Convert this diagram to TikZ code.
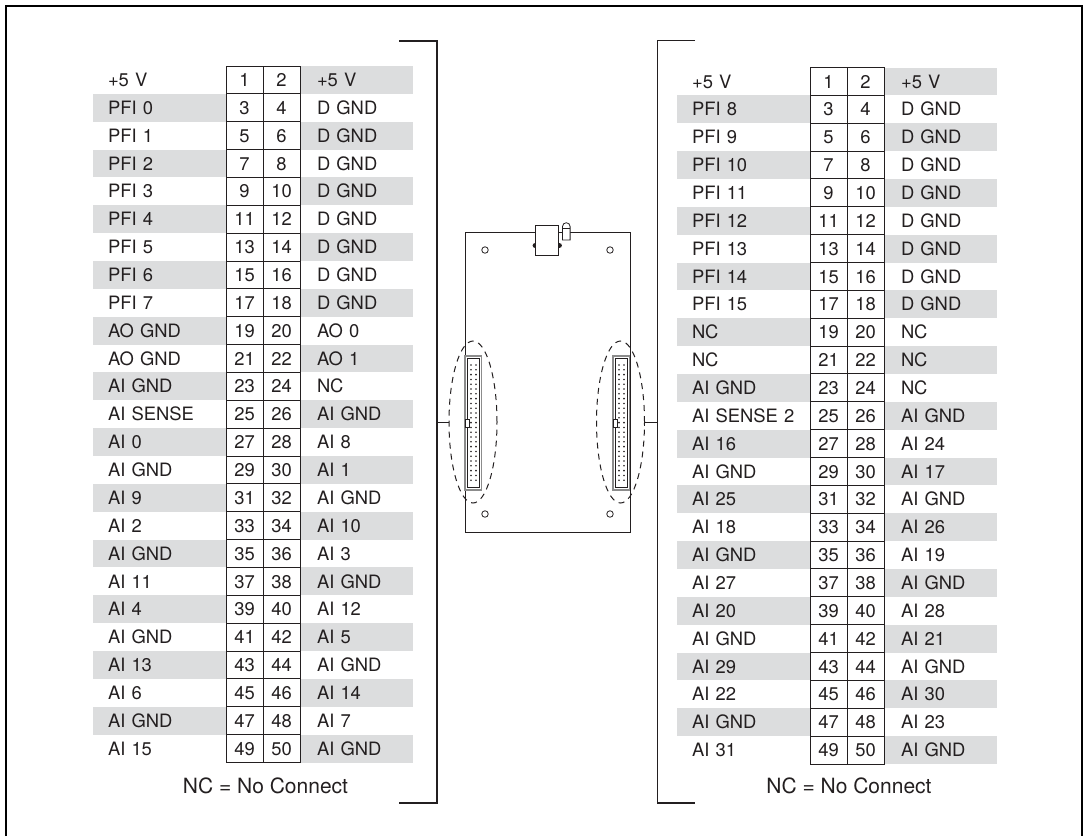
\documentclass[tikz,border=0pt]{standalone}
\usepackage{fontspec}
\setmainfont{TeX Gyre Heros}
\usetikzlibrary{shapes.geometric, positioning}
\definecolor{bandgrey}{HTML}{DCDDDE}
\definecolor{inkdark}{HTML}{231F20}
\definecolor{pingrey}{HTML}{8C8C8C}

\newcommand{\pinrows}[4]{%
	\foreach \ltext/\rtext [count=\i] in {#4} {
		\pgfmathsetmacro{\rowy}{#2+27.86*(\i-0.5)}
		\pgfmathtruncatemacro{\pinodd}{2*\i-1}
		\pgfmathtruncatemacro{\pineven}{2*\i}
		\ifodd\i
			\def\lfill{none}\def\rfill{bandgrey}
		\else
			\def\lfill{bandgrey}\def\rfill{none}
		\fi
		\node (#1l\i) [siglabel, fill=\lfill, anchor=east] at (#3,\rowy) {\ltext};
		\node (#1r\i) [siglabel, fill=\rfill, inner xsep=17pt, text width=79pt, minimum width=113pt, anchor=west] at (#3+74,\rowy) {\rtext};
		\node (#1a\i) [pincell, anchor=west] at (#3,\rowy) {\pinodd};
		\node (#1b\i) [pincell, right=0pt of #1a\i] {\pineven};
	}%
}

\begin{document}
\begin{tikzpicture} [
						x=1pt, y=-1pt,
						line join=miter,
						font=\fontsize{18.4}{22}\selectfont,
						text=inkdark,
						every node/.style={outer sep=0pt},
						siglabel/.style={inner xsep=15pt, inner ysep=0pt, text width=103pt, align=left, minimum width=133pt, minimum height=27.86pt, text height=13.2pt, text depth=0pt},
						pincell/.style={draw=inkdark, line width=1pt, inner sep=0pt, minimum width=37pt, minimum height=27.86pt, text height=13.2pt, text depth=0pt, align=center},
						keynote/.style={font=\fontsize{21}{25}\selectfont, inner sep=0pt},
						bracket/.style={draw=inkdark, line width=1.1pt},
						oval/.style={ellipse, draw=inkdark, line width=1pt, dash pattern=on 6pt off 5pt, inner sep=0pt, minimum width=48pt, minimum height=162pt},
						hole/.style={circle, draw=inkdark, line width=.8pt, inner sep=0pt, minimum size=6.5pt},
						notch/.style={draw=inkdark, fill=white, line width=.8pt, inner sep=0pt, minimum width=4.5pt, minimum height=8pt}
					]

\useasboundingbox (0,0) rectangle (1085,836);

\draw[black, line width=2.3pt] (5.8,836) -- (5.8,6) -- (1082,6) -- (1082,836);

\pinrows{p}{66}{226}{+5 V/+5 V, PFI 0/D GND, PFI 1/D GND, PFI 2/D GND, PFI 3/D GND, PFI 4/D GND, PFI 5/D GND, PFI 6/D GND, PFI 7/D GND, AO GND/AO 0, AO GND/AO 1, AI GND/NC, AI SENSE/AI GND, AI 0/AI 8, AI GND/AI 1, AI 9/AI GND, AI 2/AI 10, AI GND/AI 3, AI 11/AI GND, AI 4/AI 12, AI GND/AI 5, AI 13/AI GND, AI 6/AI 14, AI GND/AI 7, AI 15/AI GND}
\pinrows{q}{67.5}{810}{+5 V/+5 V, PFI 8/D GND, PFI 9/D GND, PFI 10/D GND, PFI 11/D GND, PFI 12/D GND, PFI 13/D GND, PFI 14/D GND, PFI 15/D GND, NC/NC, NC/NC, AI GND/NC, AI SENSE 2/AI GND, AI 16/AI 24, AI GND/AI 17, AI 25/AI GND, AI 18/AI 26, AI GND/AI 19, AI 27/AI GND, AI 20/AI 28, AI GND/AI 21, AI 29/AI GND, AI 22/AI 30, AI GND/AI 23, AI 31/AI GND}

\node (leftnote) [keynote] at (265.5,786) {NC = No Connect};
\node (rightnote) [keynote] at (849,786) {NC = No Connect};

\draw[bracket] (399,41) -- (437,41) -- (437,803) -- (399,803);
\draw[bracket] (695,40.5) -- (657.5,40.5) -- (657.5,803) -- (695,803);

\draw[draw=inkdark, line width=1pt] (465,232) rectangle (630,532);

\foreach \sx/\name in {465/left, 613/right} {
	\draw[draw=pingrey, line width=1.2pt] (\sx,356) rectangle ++(16.5,134);
	\draw[draw=inkdark, line width=.7pt] (\sx+2.5,358.5) rectangle ++(11.5,129);
	\foreach \k in {0,...,24} {
		\fill[inkdark] (\sx+6,365+4.8*\k) circle (.9);
		\fill[inkdark] (\sx+11,365+4.8*\k) circle (.9);
	}
}

\node (notchleft) [notch] at (467.5,423) {};
\node (notchright) [notch] at (615.5,423) {};

\foreach \hx/\hy [count=\j] in {485/250, 610/250, 485/514, 610/514}
	\node (hole\j) [hole] at (\hx,\hy) {};

\fill[inkdark] (535,245.5) circle (2.4);
\fill[inkdark] (559.5,245.5) circle (2.4);
\node (plug) [draw=inkdark, fill=white, line width=1pt, inner sep=0pt, minimum width=23.5pt, minimum height=30.5pt] at (547.2,240.5) {};
\draw[draw=inkdark, fill=white, line width=.8pt] (562.5,240) -- (562.5,226.5) arc (180:360:3.8) -- (570.1,240) -- cycle;
\draw[draw=inkdark, line width=.8pt] (562.5,228.5) -- (570.1,228.5);

\node (leftoval) [oval] at (473,422) {};
\node (rightoval) [oval] at (620.5,422) {};

\coordinate (lefttap) at (437,422);
\coordinate (righttap) at (657.5,422);

\path[draw=inkdark, line width=1pt]
	(lefttap) edge (leftoval.west)
	(righttap) edge (rightoval.east);
\draw[draw=inkdark, line width=1pt] (644.5,418) -- (644.5,426);
\end{tikzpicture}
\end{document}
